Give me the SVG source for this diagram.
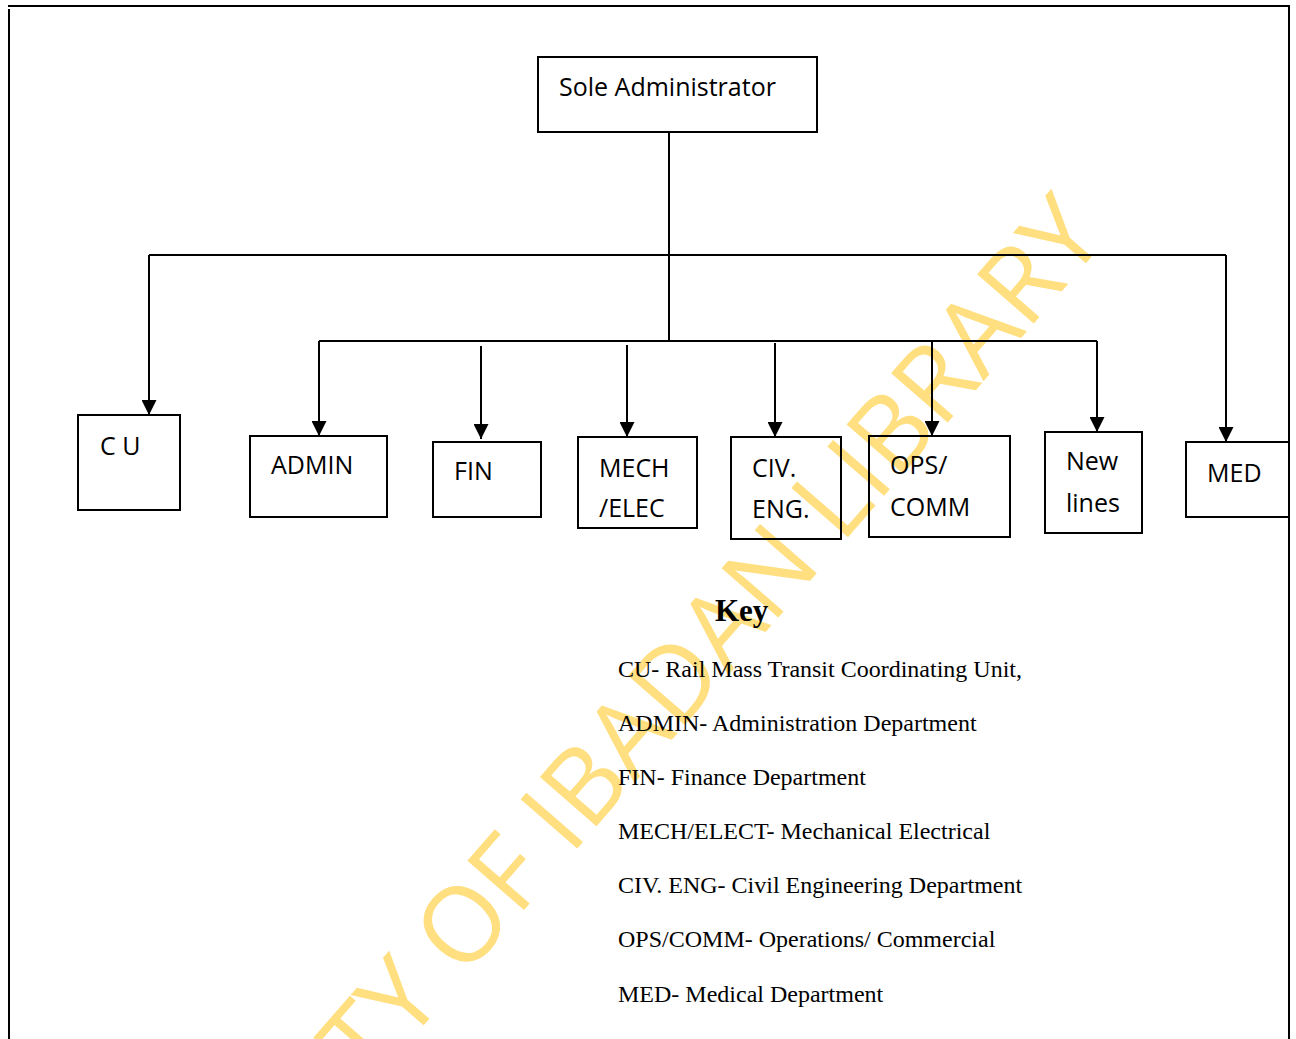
<svg xmlns="http://www.w3.org/2000/svg" width="1296" height="1039" viewBox="0 0 1296 1039">
<style>
.box{fill:none;stroke:#000;stroke-width:2}
.lbl{font-family:"Open Sans","Liberation Sans",sans-serif;font-size:25px;fill:#000}
.con{fill:none;stroke:#000;stroke-width:2}
.key{font-family:"Liberation Serif","Times New Roman",serif;font-size:24px;fill:#000}
.wm{font-family:"Open Sans","Liberation Sans",sans-serif;font-weight:400;font-size:105px;fill:#FFDF80}
</style>
<defs>
<marker id="ah" markerUnits="userSpaceOnUse" markerWidth="15" markerHeight="15" refX="15" refY="7.5" orient="auto">
<path d="M0,0 L15,7.5 L0,15 z" fill="#000"/>
</marker>
</defs>
<rect width="1296" height="1039" fill="#fff"/>
<text class="wm" text-anchor="end" transform="translate(1108,238) rotate(-49)">UNIVERSITY OF IBADAN LIBRARY</text>
<g id="page-border" fill="none" stroke="#000" stroke-width="2">
<path d="M8,6 H1290"/>
<path d="M9,9 V1039"/>
<path d="M1289,6 V1039"/>
</g>
<g id="connectors">
<path class="con" d="M669,132 V341"/>
<path class="con" d="M149,255 H1226"/>
<path class="con" d="M319,341 H1097"/>
<path class="con" d="M149,255 V415" marker-end="url(#ah)"/>
<path class="con" d="M319,341 V436" marker-end="url(#ah)"/>
<path class="con" d="M481,346 V439" marker-end="url(#ah)"/>
<path class="con" d="M627,345 V437" marker-end="url(#ah)"/>
<path class="con" d="M775,343 V437" marker-end="url(#ah)"/>
<path class="con" d="M932,341 V436" marker-end="url(#ah)"/>
<path class="con" d="M1097,341 V432" marker-end="url(#ah)"/>
<path class="con" d="M1226,255 V442" marker-end="url(#ah)"/>
</g>
<g id="node-sole-admin"><rect class="box" x="538" y="57" width="279" height="75"/><text class="lbl" x="559" y="96" font-size="25.5">Sole Administrator</text></g>
<g id="node-cu"><rect class="box" x="78" y="415" width="102" height="95"/><text class="lbl" x="100" y="455">C U</text></g>
<g id="node-admin"><rect class="box" x="250" y="436" width="137" height="81"/><text class="lbl" x="271" y="474">ADMIN</text></g>
<g id="node-fin"><rect class="box" x="433" y="442" width="108" height="75"/><text class="lbl" x="454" y="480">FIN</text></g>
<g id="node-mech"><rect class="box" x="578" y="437" width="119" height="91"/><text class="lbl" x="599" y="477">MECH</text><text class="lbl" x="599" y="517">/ELEC</text></g>
<g id="node-civ"><rect class="box" x="731" y="437" width="110" height="102"/><text class="lbl" x="752" y="477">CIV.</text><text class="lbl" x="752" y="518">ENG.</text></g>
<g id="node-ops"><rect class="box" x="869" y="436" width="141" height="101"/><text class="lbl" x="890" y="474">OPS/</text><text class="lbl" x="890" y="516">COMM</text></g>
<g id="node-newlines"><rect class="box" x="1045" y="432" width="97" height="101"/><text class="lbl" x="1066" y="470">New</text><text class="lbl" x="1066" y="512">lines</text></g>
<g id="node-med"><rect class="box" x="1186" y="442" width="103" height="75"/><text class="lbl" x="1207" y="482">MED</text></g>
<g id="key">
<text x="715" y="621" font-family="'Liberation Serif','Times New Roman',serif" font-size="31" font-weight="bold">Key</text>
<text class="key" x="618" y="677">CU- Rail Mass Transit Coordinating Unit,</text>
<text class="key" x="618" y="731">ADMIN- Administration Department</text>
<text class="key" x="618" y="785">FIN- Finance Department</text>
<text class="key" x="618" y="839">MECH/ELECT- Mechanical Electrical</text>
<text class="key" x="618" y="893">CIV. ENG- Civil Engineering Department</text>
<text class="key" x="618" y="947">OPS/COMM- Operations/ Commercial</text>
<text class="key" x="618" y="1002">MED- Medical Department</text>
</g>
</svg>
